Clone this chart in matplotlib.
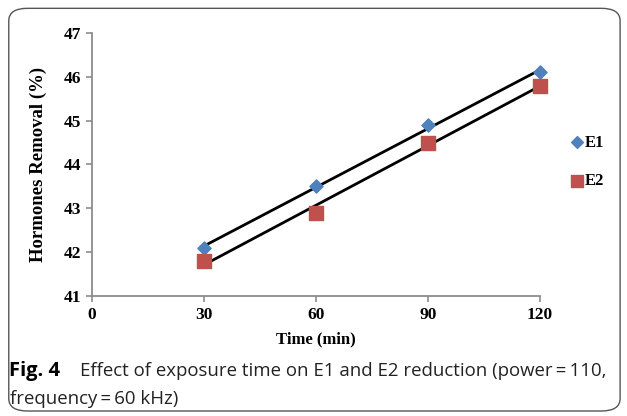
import numpy as np
import matplotlib
matplotlib.use('Agg')
from matplotlib import pyplot as plt
from matplotlib.patches import FancyBboxPatch

# data
time = [30, 60, 90, 120]
e1 = [42.1, 43.5, 44.9, 46.1]
e2 = [41.8, 42.9, 44.5, 45.8]
xticks = [0, 30, 60, 90, 120]
yticks = [41, 42, 43, 44, 45, 46, 47]

serif = 'Liberation Serif'

fig = plt.figure(figsize=(6.27, 4.16), dpi=100)

# rounded frame around the figure
frame = FancyBboxPatch((0.014, 0.012), 0.975, 0.968,
                       boxstyle='round,pad=0,rounding_size=0.03',
                       transform=fig.transFigure, fill=False,
                       edgecolor='#555555', linewidth=1.0)
fig.patches.append(frame)

ax = fig.add_axes([0.1467, 0.2885, 0.7146, 0.6322])

x = np.array(time)
for ys in (e1, e2):
    k, b = np.polyfit(x, ys, 1)
    ax.plot(x, k * x + b, color='black', linewidth=2, zorder=2, clip_on=False)

ax.scatter(time, e1, marker='D', s=45, color='#4F81BD', zorder=3, label='E1', clip_on=False)
ax.scatter(time, e2, marker='s', s=100, color='#C0504D', zorder=3, label='E2', clip_on=False)

ax.set_xlim(0, 120)
ax.set_ylim(41, 47)
ax.set_xticks(xticks)
ax.set_yticks(yticks)
ax.set_xticklabels([str(v) for v in xticks], fontfamily=serif, fontweight='bold', fontsize=12.5)
ax.set_yticklabels([str(v) for v in yticks], fontfamily=serif, fontweight='bold', fontsize=12.5)

for s in ('top', 'right'):
    ax.spines[s].set_visible(False)
for s in ('left', 'bottom'):
    ax.spines[s].set_color('#8c8c8c')
    ax.spines[s].set_linewidth(1.3)
ax.tick_params(direction='out', length=4, width=1.2, color='#8c8c8c', pad=4)

ax.set_xlabel('Time (min)', fontfamily=serif, fontweight='bold', fontsize=12, labelpad=6)
ax.set_ylabel('Hormones Removal (%)', fontfamily=serif, fontweight='bold', fontsize=13.5, labelpad=12)

leg = ax.legend(loc='center left', bbox_to_anchor=(1.03, 0.51), frameon=False,
                handletextpad=0.0, handlelength=1.0, labelspacing=1.35, markerscale=0.9,
                prop={'family': serif, 'weight': 'bold', 'size': 12})

# caption
fig.text(0.014, 0.096, 'Fig. 4', fontfamily='Open Sans', fontweight='bold', fontsize=14.5)
fig.text(0.127, 0.096, 'Effect of exposure time on E1 and E2 reduction (power\u2009=\u2009110,',
         fontfamily='Open Sans', fontsize=13.4, color='#222222')
fig.text(0.016, 0.03, 'frequency\u2009=\u200960 kHz)', fontfamily='Open Sans', fontsize=13.4,
         color='#222222')

fig.savefig('out.png', dpi=100)
